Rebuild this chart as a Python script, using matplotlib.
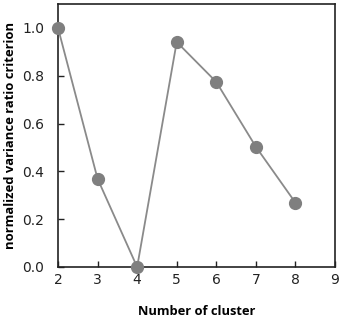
import matplotlib
matplotlib.use("Agg")
import matplotlib.pyplot as plt

clusters = [2, 3, 4, 5, 6, 7, 8]
criterion = [1.0, 0.369, 0.0, 0.941, 0.774, 0.503, 0.269]
xticks = [2, 3, 4, 5, 6, 7, 8, 9]
yticks = [0.0, 0.2, 0.4, 0.6, 0.8, 1.0]

fig = plt.figure(figsize=(3.45, 3.2), dpi=100)
ax = fig.add_axes([58/345, 1 - 267/320, (335-58)/345, (267-4)/320])
ax.plot(clusters, criterion, color="#8a8a8a", lw=1.3, marker="o", ms=8.5,
        mfc="#7f7f7f", mec="#7f7f7f", clip_on=False, zorder=3)
ax.set_xlim(2, 9)
ax.set_ylim(0, 1.1)
ax.set_xticks(xticks)
ax.set_yticks(yticks)
ax.set_yticklabels([f"{v:.1f}" for v in yticks])
ax.tick_params(direction="in", length=4, width=1, labelsize=10, colors="#222222")
ax.tick_params(axis="x", pad=4)
ax.tick_params(axis="y", pad=10)
for s in ax.spines.values():
    s.set_linewidth(1.2)
    s.set_color("#222222")
ax.set_xlabel("Number of cluster", fontsize=9.3, fontweight="bold", family="Open Sans", labelpad=13)
ax.set_ylabel("normalized variance ratio criterion", fontsize=9.4, fontweight="bold", family="Open Sans", labelpad=4)
fig.savefig("out.png", dpi=100)
